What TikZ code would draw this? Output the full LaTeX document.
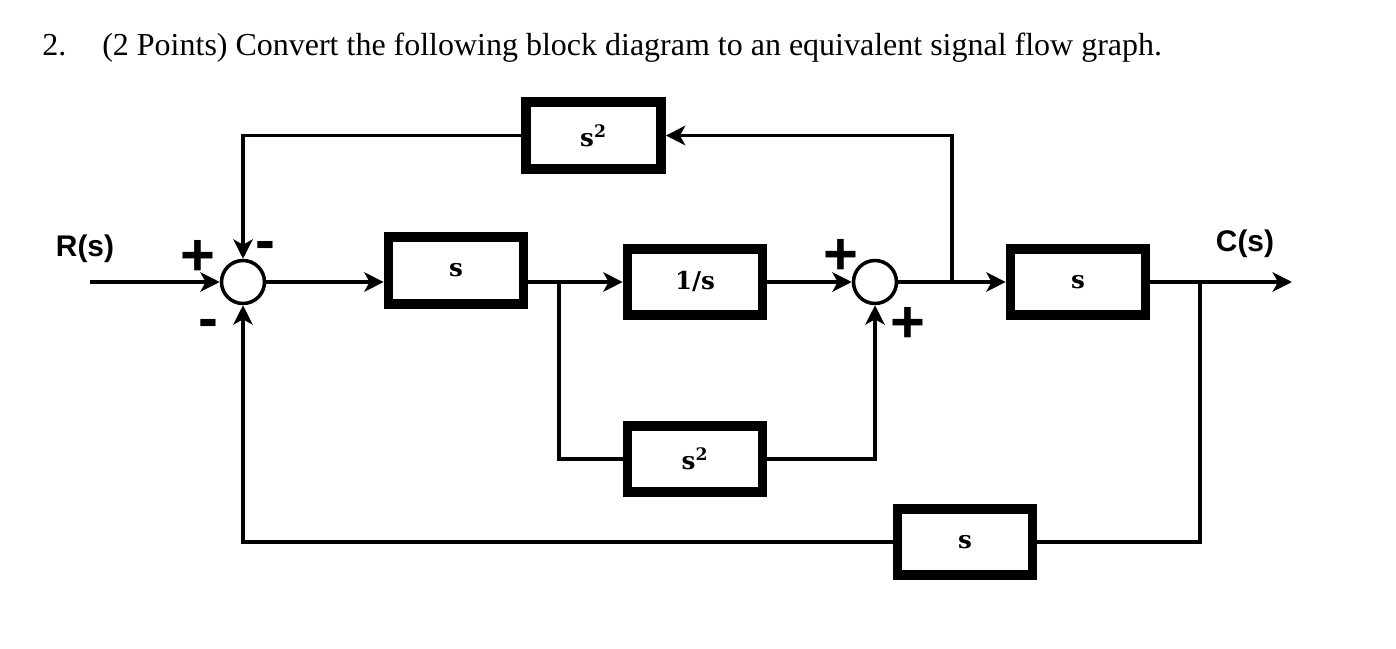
\documentclass[tikz,border=0pt]{standalone}
\usepackage{fontspec}
\setmainfont{Liberation Serif}
\newfontfamily\blockfont{DejaVu Serif}
\newfontfamily\signfont{Liberation Sans}
\usetikzlibrary{arrows.meta}

\begin{document}
\begin{tikzpicture}[
    block/.style={draw, line width=5.5pt, minimum width=2.7cm, minimum height=1.33cm, inner sep=0pt, font=\blockfont\bfseries\fontsize{14}{16}\selectfont},
    sum/.style={draw, circle, line width=2pt, minimum size=0.86cm, inner sep=0pt},
    sign/.style={font=\signfont\bfseries\fontsize{34}{38}\selectfont, inner sep=0pt},
    signal/.style={font=\signfont\bfseries\fontsize{17}{20}\selectfont},
    flow/.style={line width=2pt, -{Stealth[length=11pt,width=11pt,inset=3pt]}},
    wire/.style={line width=2pt}
]
    \useasboundingbox (0,0) rectangle (27.92,-12.96);
    \node[anchor=base west, inner sep=0pt, font=\fontsize{18.2}{21}\selectfont] (title) at (0.84,-1.1) {2.\hspace{0.72cm}(2 Points) Convert the following block diagram to an equivalent signal flow graph.};

    \node[sum] (sum1) at (4.86,-5.64) {};
    \node[sum] (sum2) at (17.5,-5.64) {};
    \node[block] (fwdS) at (9.12,-5.41) {s};
    \node[block] (inv) at (13.9,-5.64) {1/s};
    \node[block] (outS) at (21.56,-5.64) {s};
    \node[block] (topSq) at (11.87,-2.71) {s\textsuperscript{2}};
    \node[block] (midSq) at (13.9,-9.18) {s\textsuperscript{2}};
    \node[block] (botS) at (19.3,-10.84) {s};

    \coordinate (in) at (1.8,-5.64);
    \coordinate (out) at (25.84,-5.64);
    \coordinate (tapA) at (11.18,-5.64);
    \coordinate (tapB) at (19.04,-5.64);
    \coordinate (tapC) at (24.0,-5.64);

    \node[signal] (R) at (1.7,-4.98) {R(s)};
    \node[signal] (C) at (24.9,-4.88) {C(s)};
    \node[sign] (p1) at (3.96,-5.16) {+};
    \node[sign] (m1) at (5.3,-5.02) {-};
    \node[sign] (m2) at (4.16,-6.58) {-};
    \node[sign] (p2) at (16.82,-5.14) {+};
    \node[sign] (p3) at (18.16,-6.5) {+};

    \draw[flow] (in) -- (sum1);
    \draw[flow] (sum1) -- (sum1 -| fwdS.west);
    \draw[flow] (fwdS.east |- tapA) -- (inv);
    \draw[wire] (tapA) |- (midSq);
    \draw[flow] (midSq) -| (sum2);
    \draw[flow] (inv) -- (sum2);
    \draw[flow] (sum2) -- (outS);
    \draw[flow] (tapB) |- (topSq);
    \draw[flow] (topSq) -| (sum1);
    \draw[flow] (outS) -- (out);
    \draw[wire] (tapC) |- (botS);
    \draw[flow] (botS) -| (sum1);
\end{tikzpicture}
\end{document}
